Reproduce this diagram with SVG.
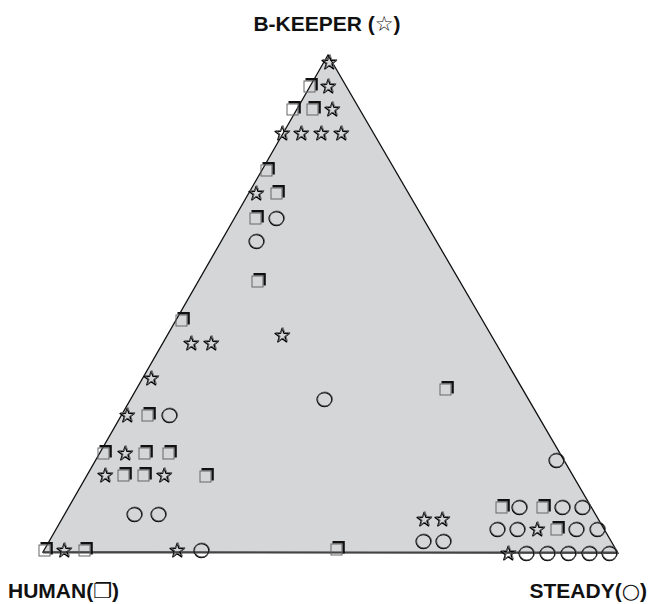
<svg xmlns="http://www.w3.org/2000/svg" width="649" height="604" viewBox="0 0 649 604">
<style>
.lbl{font-family:"Liberation Sans","DejaVu Sans",Arial,sans-serif;font-weight:bold;font-size:21px;fill:#111}
.sym{font-family:"DejaVu Sans",sans-serif;font-weight:normal}
</style>
<defs>
<g id="sq">
<path d="M-4.5,-6.8 H6.6 V4.5" fill="none" stroke="#111" stroke-width="2.4"/>
<rect x="-6" y="-5" width="11" height="11" fill="none" stroke="#666" stroke-width="1"/>
</g>
<g id="ci">
<ellipse cx="-0.6" cy="0.6" rx="7.4" ry="7" fill="none" stroke="#000" stroke-width="1.2"/>
<ellipse rx="7.4" ry="7" fill="none" stroke="#555" stroke-width="0.9"/>
</g>
<g id="st">
<polygon transform="translate(-0.8,0.8)" points="0,-7.5 1.76,-2.43 7.13,-2.32 2.85,0.93 4.41,6.07 0,3 -4.41,6.07 -2.85,0.93 -7.13,-2.32 -1.76,-2.43" fill="none" stroke="#000" stroke-width="1.4" stroke-linejoin="round"/>
<polygon points="0,-7.5 1.76,-2.43 7.13,-2.32 2.85,0.93 4.41,6.07 0,3 -4.41,6.07 -2.85,0.93 -7.13,-2.32 -1.76,-2.43" fill="none" stroke="#666" stroke-width="0.9" stroke-linejoin="round"/>
</g>
</defs>
<rect width="649" height="604" fill="#fff"/>
<g id="triangle">
<polygon points="43,552 328,55 618,553" fill="#d4d6d8" stroke="#111" stroke-width="1.3"/>
<line x1="43" y1="552.5" x2="618" y2="552.5" stroke="#444" stroke-width="2.2"/>
</g>
<g id="stars">
<use href="#st" x="330" y="62"/><use href="#st" x="329" y="86"/><use href="#st" x="333" y="109"/>
<use href="#st" x="283" y="133"/><use href="#st" x="302" y="133"/><use href="#st" x="322" y="133"/><use href="#st" x="342" y="133"/>
<use href="#st" x="257" y="193"/><use href="#st" x="283" y="335"/>
<use href="#st" x="192" y="343"/><use href="#st" x="212" y="343"/><use href="#st" x="152" y="378"/>
<use href="#st" x="128" y="415"/><use href="#st" x="126" y="453"/>
<use href="#st" x="106" y="475"/><use href="#st" x="165" y="475"/>
<use href="#st" x="65" y="550"/><use href="#st" x="178" y="550"/>
<use href="#st" x="425" y="519"/><use href="#st" x="443" y="519"/>
<use href="#st" x="538" y="529"/><use href="#st" x="509" y="553"/>
</g>
<g id="squares">
<use href="#sq" x="310" y="86"/><use href="#sq" x="293" y="109"/><use href="#sq" x="313" y="109"/>
<use href="#sq" x="267" y="170"/><use href="#sq" x="277" y="193"/><use href="#sq" x="256" y="218"/>
<use href="#sq" x="258" y="281"/><use href="#sq" x="182" y="320"/><use href="#sq" x="148" y="415"/>
<use href="#sq" x="104" y="453"/><use href="#sq" x="145" y="453"/><use href="#sq" x="169" y="453"/>
<use href="#sq" x="124" y="475"/><use href="#sq" x="144" y="475"/><use href="#sq" x="206" y="476"/>
<use href="#sq" x="45" y="550"/><use href="#sq" x="85" y="550"/>
<use href="#sq" x="446" y="389"/><use href="#sq" x="337" y="549"/>
<use href="#sq" x="502" y="507"/><use href="#sq" x="543" y="507"/><use href="#sq" x="557" y="529"/>
</g>
<g id="circles">
<use href="#ci" x="277" y="218"/><use href="#ci" x="257" y="241"/><use href="#ci" x="170" y="415"/>
<use href="#ci" x="325" y="399"/><use href="#ci" x="135" y="514"/><use href="#ci" x="159" y="514"/>
<use href="#ci" x="202" y="550"/><use href="#ci" x="424" y="541"/><use href="#ci" x="444" y="541"/>
<use href="#ci" x="557" y="460"/>
<use href="#ci" x="520" y="507"/><use href="#ci" x="563" y="507"/><use href="#ci" x="583" y="507"/>
<use href="#ci" x="498" y="529"/><use href="#ci" x="518" y="529"/><use href="#ci" x="577" y="529"/><use href="#ci" x="598" y="529"/>
<use href="#ci" x="527" y="553"/><use href="#ci" x="548" y="553"/><use href="#ci" x="569" y="553"/><use href="#ci" x="590" y="553"/><use href="#ci" x="610" y="553"/>
</g>
<g id="labels">
<text class="lbl" x="327" y="31" text-anchor="middle">B-KEEPER (<tspan class="sym">☆</tspan>)</text>
<text class="lbl" x="8" y="598">HUMAN(<tspan class="sym">❐</tspan>)</text>
<text class="lbl" x="647" y="598" text-anchor="end">STEADY(<tspan class="sym">○</tspan>)</text>
</g>
</svg>
